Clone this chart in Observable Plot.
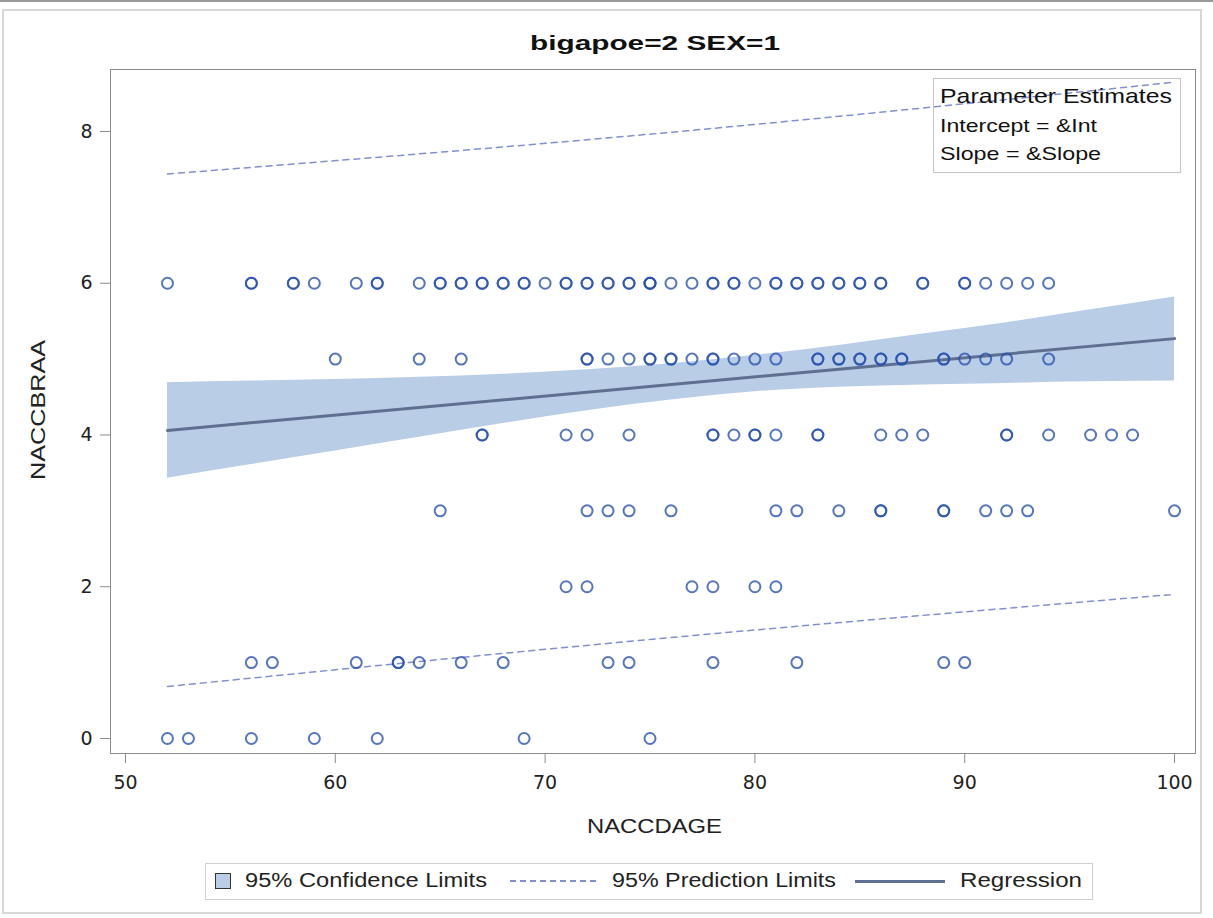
<!DOCTYPE html>
<html>
<head>
<meta charset="utf-8">
<script src="https://cdn.jsdelivr.net/npm/d3@7"></script>
<script src="https://cdn.jsdelivr.net/npm/@observablehq/plot@0.6"></script>
<style>
  html, body { margin: 0; padding: 0; background: #fff; }
  #wrap { position: relative; width: 1213px; height: 918px; overflow: hidden; font-family: "Liberation Sans", Arial, sans-serif; color: #222; }
  #wrap svg { position: absolute; left: 0; top: 0; }
  .abs { position: absolute; white-space: nowrap; line-height: 1.15; }
</style>
</head>
<body>
<div id="wrap"></div>
<script>
// ---- data ----
const title = "bigapoe=2 SEX=1";
const xLabel = "NACCDAGE";
const yLabel = "NACCBRAA";
const xTicks = [50, 60, 70, 80, 90, 100];
const yTicks = [0, 2, 4, 6, 8];

// ages observed at each NACCBRAA level (repeats = overlapping points)
const agesAt6 = [52,56,56,58,58,59,61,62,62,64,65,65,66,66,67,67,68,68,69,69,70,71,71,72,72,73,73,74,74,75,75,75,76,77,78,78,79,79,80,81,81,82,82,83,83,84,84,85,85,86,86,88,88,90,90,91,92,93,94];
const agesAt5 = [60,64,66,72,72,73,74,75,75,76,76,77,78,78,79,80,81,83,83,84,84,85,85,86,86,87,87,89,89,90,91,92,94];
const agesAt4 = [67,67,71,72,74,78,78,79,80,80,81,83,83,86,87,88,92,92,94,96,97,98];
const agesAt3 = [65,72,73,74,76,81,82,84,86,86,89,89,91,92,93,100];
const agesAt2 = [71,72,77,78,80,81];
const agesAt1 = [56,57,61,63,63,64,66,68,73,74,78,82,89,90];
const agesAt0 = [52,53,56,59,62,69,75];

// confidence band
const bandAge   = [52, 56, 60, 64, 68, 72, 76, 80, 84, 88, 92, 96, 100];
const ciLower   = [3.43,3.61,3.79,3.97,4.15,4.32,4.46,4.57,4.63,4.66,4.68,4.70,4.71];
const ciUpper   = [4.69,4.71,4.73,4.76,4.80,4.86,4.94,5.05,5.18,5.33,5.48,5.65,5.82];

// regression line
const regAge = [52, 100];
const regFit = [4.06, 5.27];

// prediction limits
const predAge   = [52, 76, 100];
const predLower = [0.685, 1.33, 1.90];
const predUpper = [7.44, 7.99, 8.65];

// ---- build tables ----
const levels = [[0, agesAt0],[1, agesAt1],[2, agesAt2],[3, agesAt3],[4, agesAt4],[5, agesAt5],[6, agesAt6]];
const points = levels.flatMap(([v, ages]) => ages.map(a => ({age: a, braa: v})));
const band = bandAge.map((a, i) => ({age: a, lo: ciLower[i], hi: ciUpper[i]}));
const reg = regAge.map((a, i) => ({age: a, fit: regFit[i]}));
const predLo = predAge.map((a, i) => ({age: a, v: predLower[i]}));
const predHi = predAge.map((a, i) => ({age: a, v: predUpper[i]}));

const frameGray = "#8c8c8c";
const bandFill = "#b9cde6";
const regColor = "#5f6f92";
const predColor = "#8190d0";
const dotColor = "#2450b0";

const chart = Plot.plot({
  width: 1213,
  height: 918,
  marginLeft: 110,
  marginRight: 18,
  marginTop: 69,
  marginBottom: 165,
  style: {fontFamily: "'Liberation Sans', Arial, sans-serif", background: "transparent"},
  x: {domain: [49.285, 101.0], label: null},
  y: {domain: [-0.198, 8.817], label: null},
  marks: [
    Plot.areaY(band, {x: "age", y1: "lo", y2: "hi", fill: bandFill, curve: "natural"}),
    Plot.line(predLo, {x: "age", y: "v", stroke: predColor, strokeWidth: 1.5, strokeDasharray: "6,5", curve: "natural"}),
    Plot.line(predHi, {x: "age", y: "v", stroke: predColor, strokeWidth: 1.5, strokeDasharray: "6,5", curve: "natural"}),
    Plot.line(reg, {x: "age", y: "fit", stroke: regColor, strokeWidth: 3}),
    Plot.dot(points, {x: "age", y: "braa", r: 5.5, stroke: dotColor, strokeWidth: 2, strokeOpacity: 0.78, fill: "none"}),
    Plot.frame({stroke: frameGray}),
    Plot.axisX({ticks: xTicks, tickSize: 10, tickPadding: 12, fontSize: 19, fontFamily: "'DejaVu Sans', sans-serif", stroke: frameGray, fill: "#222", label: null}),
    Plot.axisY({ticks: yTicks, tickSize: 10, tickPadding: 8, fontSize: 19, fontFamily: "'DejaVu Sans', sans-serif", stroke: frameGray, fill: "#222", label: null})
  ]
});

const wrap = document.getElementById("wrap");

// outer image frame
const topLine = document.createElement("div");
topLine.className = "abs";
Object.assign(topLine.style, {left: "0px", top: "0px", width: "1213px", height: "2px", background: "#9a9a9a"});
wrap.appendChild(topLine);
const outer = document.createElement("div");
outer.className = "abs";
Object.assign(outer.style, {left: "2px", top: "9px", width: "1200px", height: "905px", border: "2px solid #d8d8d8", boxSizing: "border-box"});
wrap.appendChild(outer);

wrap.appendChild(chart);

// text helper: place text at (left, top) and stretch horizontally to a target width
function addText(txt, left, top, targetW, css) {
  const d = document.createElement("div");
  d.className = "abs";
  d.textContent = txt;
  Object.assign(d.style, {left: left + "px", top: top + "px"}, css);
  wrap.appendChild(d);
  const w = d.getBoundingClientRect().width;
  if (targetW && w > 0) {
    d.style.transformOrigin = "0 0";
    d.style.transform = "scaleX(" + (targetW / w) + ")";
  }
  return d;
}

// title
addText(title, 530, 31, 250, {fontWeight: "bold", fontSize: "21px", color: "#111"});
// x axis label
addText(xLabel, 587, 814, 135, {fontSize: "21px"});
// y axis label (rotated)
{
  const d = document.createElement("div");
  d.className = "abs";
  d.textContent = yLabel;
  Object.assign(d.style, {fontSize: "21px", transformOrigin: "0 0"});
  wrap.appendChild(d);
  const w = d.getBoundingClientRect().width;
  const s = 140 / w;
  d.style.left = "26px";
  d.style.top = "480px";
  d.style.transform = "rotate(-90deg) scaleX(" + s + ")";
}

// parameter estimates box
const pbox = document.createElement("div");
pbox.className = "abs";
Object.assign(pbox.style, {left: "933px", top: "78px", width: "248px", height: "95px", border: "1px solid #c4c4c4", boxSizing: "border-box"});
wrap.appendChild(pbox);
addText("Parameter Estimates", 940, 84, 232, {fontSize: "21px", color: "#111"});
addText("Intercept = &Int", 940, 115, 157, {fontSize: "19px", color: "#111"});
addText("Slope = &Slope", 940, 143, 161, {fontSize: "19px", color: "#111"});

// bottom legend
const lbox = document.createElement("div");
lbox.className = "abs";
Object.assign(lbox.style, {left: "205px", top: "863px", width: "888px", height: "37px", border: "1px solid #cfcfcf", boxSizing: "border-box"});
wrap.appendChild(lbox);
const sw = document.createElement("div");
sw.className = "abs";
Object.assign(sw.style, {left: "215px", top: "873px", width: "16px", height: "16px", background: bandFill, border: "1.5px solid #333", boxSizing: "border-box"});
wrap.appendChild(sw);
addText("95% Confidence Limits", 245, 869, 242, {fontSize: "20px"});
const dash = document.createElement("div");
dash.className = "abs";
Object.assign(dash.style, {left: "510px", top: "880px", width: "86px", height: "0px", borderTop: "2px dashed " + predColor});
wrap.appendChild(dash);
addText("95% Prediction Limits", 612, 869, 224, {fontSize: "20px"});
const solid = document.createElement("div");
solid.className = "abs";
Object.assign(solid.style, {left: "855px", top: "880px", width: "90px", height: "3px", background: regColor});
wrap.appendChild(solid);
addText("Regression", 960, 869, 122, {fontSize: "20px"});
</script>
</body>
</html>
